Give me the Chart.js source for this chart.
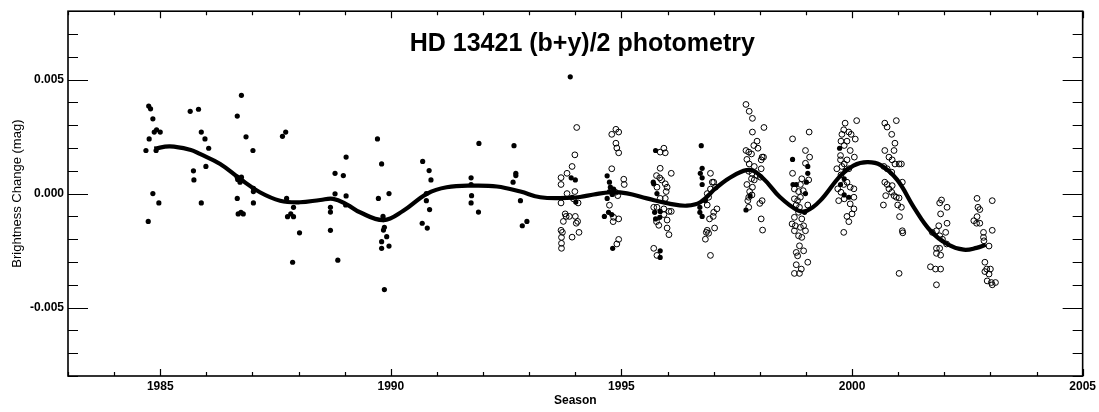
<!DOCTYPE html>
<html>
<head>
<meta charset="utf-8">
<script src="https://cdn.jsdelivr.net/npm/chart.js@4.4.1/dist/chart.umd.min.js"></script>
<style>
  html, body { margin: 0; padding: 0; background: #fff; }
  #wrap { width: 1099px; height: 412px; }
</style>
</head>
<body>
<div id="wrap"><canvas id="c" width="1099" height="412"></canvas></div>
<script>
// ---------------- DATA ----------------
const chartTitle = 'HD 13421 (b+y)/2 photometry';
const xAxisTitle = 'Season';
const yAxisTitle = 'Brightness Change (mag)';
const xMin = 1983, xMax = 2005, xMajorEvery = 5;
const yMin = -0.008, yMax = 0.008, yStep = 0.001, yMajorEvery = 0.005;

// filled dots (earlier photometry)
const filledYear = [
  1984.69,1984.74,1984.75,1984.79,1984.76,1984.84,1984.84,1984.87,1984.92,1984.91,1984.97,1985.00,
  1985.65,1985.83,1985.72,1985.73,1985.89,1985.89,1985.97,1985.99,1986.05,
  1986.67,1986.76,1986.67,1986.68,1986.73,1986.76,1986.67,1986.69,1986.75,1986.80,1986.86,1987.01,1987.02,1987.02,1987.02,
  1987.65,1987.72,1987.74,1987.76,1987.83,1987.89,1987.89,1987.87,1988.02,
  1988.69,1988.69,1988.69,1988.79,1988.79,1988.85,1988.97,1989.03,1989.03,1989.02,
  1989.71,1989.80,1989.73,1989.96,1989.83,1989.84,1989.86,1989.84,1989.91,1989.80,1989.80,1989.96,1989.86,
  1990.69,1990.83,1990.87,1990.77,1990.77,1990.84,1990.68,1990.79,
  1991.74,1991.75,1991.74,1991.74,1991.91,1991.90,
  1992.67,1992.71,1992.71,1992.65,1992.81,1992.85,1992.95,
  1993.89,1993.91,1994.00,1993.93,1994.01,
  1994.69,1994.74,1994.76,1994.74,1994.69,1994.80,1994.83,1994.63,1994.72,1994.79,1994.81,
  1995.74,1995.69,1995.70,1995.77,1995.72,1995.84,1995.83,1995.74,1995.84,1995.84,
  1996.73,1996.75,1996.71,1996.75,1996.75,1996.82,1996.70,1996.70,1996.75,
  1997.79,1997.70,
  1998.71,1999.04,1999.04,1998.72,1998.79,1999.01,1998.99,1998.97,
  1999.73,1999.85,1999.83,1999.75,1999.83,1999.93
];
const filledMag = [
  0.00189,-0.00122,0.00384,0.00372,0.00240,0.00328,0.00000,0.00270,0.00280,0.00189,-0.00041,0.00270,
  0.00361,0.00370,0.00100,0.00060,0.00270,-0.00041,0.00240,0.00119,0.00199,
  0.00340,0.00431,0.00072,0.00062,0.00050,0.00072,-0.00021,-0.00089,-0.00082,-0.00089,0.00249,0.00189,0.00023,0.00009,-0.00041,
  0.00251,0.00270,-0.00021,-0.00101,-0.00089,-0.00101,-0.00060,-0.00301,-0.00172,
  -0.00081,-0.00060,-0.00161,0.00089,-0.00001,-0.00292,0.00079,0.00160,-0.00010,-0.00050,
  0.00240,0.00130,-0.00021,0.00000,-0.00100,-0.00114,-0.00148,-0.00160,-0.00189,-0.00211,-0.00240,-0.00230,-0.00421,
  0.00141,0.00101,0.00060,0.00000,-0.00031,-0.00070,-0.00130,-0.00151,
  0.00069,-0.00009,-0.00041,0.00040,0.00220,-0.00081,
  0.00210,0.00089,0.00079,0.00050,-0.00031,-0.00141,-0.00122,
  0.00512,0.00069,0.00060,-0.00016,-0.00037,
  0.00078,0.00050,0.00028,0.00009,-0.00021,-0.00004,0.00020,-0.00100,-0.00082,-0.00092,-0.00240,
  0.00189,0.00050,0.00043,0.00000,-0.00082,-0.00078,-0.00104,-0.00111,-0.00251,-0.00280,
  0.00210,0.00111,0.00089,0.00069,0.00040,-0.00031,-0.00060,-0.00082,-0.00100,
  -0.00010,-0.00072,
  0.00150,0.00119,0.00089,0.00040,0.00040,0.00050,0.00000,-0.00082,
  0.00199,0.00101,0.00065,0.00040,-0.00006,-0.00016
];

// open circles (later photometry)
const openYear = [
  1994.03,1993.99,1993.93,1993.82,1993.69,1993.69,1993.82,1993.99,1993.96,1994.06,1993.69,1993.78,1993.80,1993.87,1994.00,1993.74,1994.05,1994.02,1993.69,1993.72,1994.08,1993.93,1993.70,1993.70,1993.70,
  1994.79,1994.87,1994.92,1994.74,1994.83,1994.82,1994.94,1995.05,1995.06,1994.79,1994.88,1994.94,1994.88,1994.90,1994.94,1994.94,1994.90,
  1995.84,1995.92,1995.95,1995.84,1995.76,1995.83,1995.87,1996.08,1995.77,1995.95,1995.99,1995.97,1995.84,1995.95,1995.70,1995.77,1995.92,1996.03,1996.08,1995.92,1995.76,1995.81,1995.99,1995.99,1996.03,1995.70,1995.77,
  1996.93,1996.97,1997.00,1997.04,1996.93,1996.86,1996.89,1996.86,1997.07,1997.00,1996.99,1996.91,1997.02,1996.86,1996.84,1996.89,1996.82,1996.93,
  1997.70,1997.77,1997.84,1997.84,1998.09,1997.94,1997.87,1997.96,1997.70,1997.76,1997.82,1998.05,1998.08,1998.03,1997.72,1997.77,1997.88,1998.03,1997.76,1997.83,1997.94,1998.01,1997.82,1997.88,1997.72,1997.84,1997.78,1997.83,1997.76,1997.74,1998.05,1998.00,1997.76,1998.03,1998.06,
  1998.71,1999.07,1998.99,1999.08,1998.99,1998.71,1998.91,1998.88,1999.06,1998.75,1998.84,1998.94,1998.75,1998.88,1998.82,1998.79,1998.86,1999.04,1998.84,1998.75,1998.91,1998.70,1998.77,1998.95,1998.88,1998.75,1998.99,1998.84,1998.91,1998.86,1998.79,1998.95,1998.82,1999.04,1998.79,1998.90,1998.75,1998.86,
  1999.85,2000.10,1999.82,1999.93,1999.98,1999.78,2000.07,1999.76,1999.89,1999.83,1999.96,1999.75,2000.05,1999.75,1999.89,1999.83,1999.78,1999.67,1999.93,1999.76,1999.89,1999.82,1999.96,2000.04,1999.69,1999.76,2000.04,1999.71,1999.83,1999.96,2000.04,2000.00,1999.89,1999.93,1999.82,
  2000.71,2000.76,2000.96,2000.86,2000.93,2000.91,2000.71,2000.80,2000.87,2000.93,2001.02,2001.07,2000.69,2000.76,2000.86,2000.71,2000.76,2001.09,2000.87,2000.80,2000.86,2000.91,2000.73,2000.96,2001.02,2000.68,2000.99,2001.07,2001.03,2001.09,2001.10,2001.02,
  2001.94,2001.90,2002.06,2001.92,2002.06,2001.88,2001.83,2001.74,2002.03,2001.90,2001.96,2002.05,2001.83,2001.90,2001.83,2001.92,2001.70,2001.81,2001.92,2001.83,
  2002.71,2003.04,2002.73,2002.77,2002.71,2002.64,2002.70,2002.77,2003.04,2002.85,2002.85,2002.86,2002.97,2002.88,2002.92,2003.00,2002.88,2002.97,2002.93,2003.02,2003.11,2003.04
];
const openMag = [
  0.00290,0.00170,0.00119,0.00089,0.00070,0.00040,0.00000,0.00009,-0.00023,-0.00041,-0.00041,-0.00089,-0.00100,-0.00100,-0.00100,-0.00122,-0.00122,-0.00130,-0.00161,-0.00170,-0.00170,-0.00191,-0.00192,-0.00218,-0.00240,
  0.00109,0.00006,-0.00009,-0.00051,-0.00104,-0.00123,-0.00111,0.00063,0.00040,0.00260,0.00282,0.00270,0.00221,0.00200,0.00179,-0.00201,-0.00221,
  0.00182,0.00199,0.00179,0.00111,0.00079,0.00069,0.00060,0.00089,0.00028,0.00043,0.00028,0.00009,-0.00021,-0.00021,-0.00060,-0.00060,-0.00067,-0.00078,-0.00078,-0.00092,-0.00123,-0.00139,-0.00116,-0.00151,-0.00180,-0.00240,-0.00271,
  0.00089,0.00050,0.00050,0.00028,0.00020,0.00000,-0.00016,-0.00050,-0.00067,-0.00082,-0.00100,-0.00111,-0.00151,-0.00161,-0.00170,-0.00174,-0.00200,-0.00271,
  0.00391,0.00361,0.00330,0.00270,0.00290,0.00230,0.00211,0.00199,0.00189,0.00182,0.00174,0.00160,0.00160,0.00148,0.00150,0.00130,0.00119,0.00109,0.00098,0.00089,0.00079,0.00072,0.00065,0.00060,0.00040,0.00028,0.00009,-0.00006,-0.00016,-0.00031,-0.00031,-0.00043,-0.00060,-0.00111,-0.00160,
  0.00240,0.00270,0.00189,0.00160,0.00133,0.00089,0.00065,0.00040,0.00060,0.00020,0.00009,0.00013,-0.00023,-0.00016,-0.00031,-0.00050,-0.00060,-0.00050,-0.00082,-0.00104,-0.00111,-0.00133,-0.00141,-0.00141,-0.00148,-0.00163,-0.00163,-0.00185,-0.00192,-0.00229,-0.00258,-0.00251,-0.00273,-0.00301,-0.00312,-0.00331,-0.00350,-0.00350,
  0.00309,0.00320,0.00280,0.00270,0.00260,0.00260,0.00239,0.00230,0.00230,0.00211,0.00189,0.00167,0.00160,0.00148,0.00148,0.00130,0.00119,0.00109,0.00109,0.00082,0.00050,0.00040,0.00028,0.00021,0.00021,0.00006,-0.00016,-0.00031,-0.00023,-0.00045,-0.00067,-0.00089,-0.00100,-0.00123,-0.00170,
  0.00309,0.00292,0.00320,0.00260,0.00221,0.00189,0.00189,0.00160,0.00148,0.00130,0.00130,0.00130,0.00119,0.00109,0.00094,0.00050,0.00040,0.00050,0.00035,0.00021,0.00006,-0.00009,-0.00009,-0.00016,-0.00019,-0.00050,-0.00050,-0.00060,-0.00101,-0.00163,-0.00172,-0.00350,
  -0.00028,-0.00041,-0.00060,-0.00089,-0.00130,-0.00141,-0.00163,-0.00170,-0.00170,-0.00185,-0.00200,-0.00221,-0.00240,-0.00240,-0.00262,-0.00270,-0.00321,-0.00331,-0.00331,-0.00400,
  -0.00021,-0.00031,-0.00060,-0.00070,-0.00101,-0.00119,-0.00130,-0.00130,-0.00161,-0.00170,-0.00192,-0.00207,-0.00230,-0.00301,-0.00331,-0.00331,-0.00342,-0.00353,-0.00383,-0.00390,-0.00390,-0.00400
];

// smooth fitted curve
const curveYear = [1984.87,1985.21,1985.65,1985.86,1986.30,1986.73,1987.16,1987.60,1988.03,1988.47,1988.75,1989.05,1989.33,1989.84,1990.27,1990.78,1991.21,1991.79,1992.30,1992.81,1993.24,1993.82,1994.10,1994.40,1994.76,1995.12,1995.55,1996.06,1996.42,1996.71,1997.07,1997.43,1997.79,1998.08,1998.44,1998.81,1999.02,1999.31,1999.75,2000.03,2000.33,2000.62,2000.98,2001.34,2001.70,2002.06,2002.42,2002.70,2002.90];
const curveMag  = [0.00197,0.00207,0.00192,0.00174,0.00130,0.00065,0.00006,-0.00031,-0.00038,-0.00028,-0.00023,-0.00048,-0.00082,-0.00116,-0.00075,-0.00001,0.00028,0.00035,0.00031,0.00009,-0.00016,-0.00019,-0.00015,-0.00004,0.00006,0.00001,-0.00021,-0.00045,-0.00053,-0.00038,0.00028,0.00079,0.00104,0.00065,-0.00016,-0.00072,-0.00075,-0.00031,0.00079,0.00123,0.00138,0.00125,0.00060,-0.00060,-0.00163,-0.00221,-0.00246,-0.00238,-0.00224];

// ---------------- CHART ----------------
const toXY = (xs, ys) => xs.map((v, i) => ({ x: v, y: ys[i] }));
const FONT = "'Liberation Sans', Arial, Helvetica, sans-serif";
Chart.defaults.font.family = FONT;
Chart.defaults.color = '#000';

const isMajorY = v => Math.abs(Math.round(v * 1000)) % Math.round(yMajorEvery * 1000) === 0;
const isMajorX = v => Math.abs(Math.round(v)) % xMajorEvery === 0;

const frameTicks = {
  id: 'frameTicks',
  afterDatasetsDraw(chart) {
    const { ctx, chartArea: a, scales: { x, y } } = chart;
    ctx.save();
    ctx.strokeStyle = '#000';
    ctx.lineWidth = 1.6;
    ctx.strokeRect(a.left, a.top, a.right - a.left, a.bottom - a.top);
    ctx.lineWidth = 1.2;
    ctx.beginPath();
    y.ticks.forEach(t => {
      const py = Math.round(y.getPixelForValue(t.value)) + 0.5;
      const len = isMajorY(t.value) ? 20 : 10;
      ctx.moveTo(a.left, py); ctx.lineTo(a.left + len, py);
      ctx.moveTo(a.right, py); ctx.lineTo(a.right - len, py);
    });
    x.ticks.forEach(t => {
      const px = Math.round(x.getPixelForValue(t.value)) + 0.5;
      const len = isMajorX(t.value) ? 7 : 4;
      ctx.moveTo(px, a.bottom); ctx.lineTo(px, a.bottom - len);
      ctx.moveTo(px, a.top); ctx.lineTo(px, a.top + len);
    });
    ctx.stroke();
    // chart title inside the plot frame
    ctx.fillStyle = '#000';
    ctx.font = "bold 25px " + FONT;
    ctx.textAlign = 'center';
    ctx.textBaseline = 'alphabetic';
    ctx.fillText(chartTitle, (a.left + a.right) / 2 + 7, a.top + 40);
    ctx.restore();
  }
};

new Chart(document.getElementById('c'), {
  type: 'scatter',
  data: {
    datasets: [
      {
        type: 'line',
        label: 'fit',
        data: toXY(curveYear, curveMag),
        borderColor: '#000',
        borderWidth: 4.2,
        tension: 0.4,
        pointRadius: 0,
        fill: false,
        order: 0
      },
      {
        label: 'filled',
        data: toXY(filledYear, filledMag),
        pointRadius: 2.6,
        backgroundColor: '#000',
        borderColor: '#000',
        borderWidth: 0,
        order: 1
      },
      {
        label: 'open',
        data: toXY(openYear, openMag),
        pointRadius: 2.9,
        backgroundColor: 'rgba(255,255,255,0)',
        borderColor: '#000',
        borderWidth: 1,
        order: 2
      }
    ]
  },
  options: {
    responsive: false,
    animation: false,
    events: [],
    layout: { padding: { top: 11, right: 16, left: 0, bottom: 0 } },
    plugins: { legend: { display: false }, tooltip: { enabled: false }, title: { display: false } },
    scales: {
      x: {
        type: 'linear',
        min: xMin, max: xMax,
        grid: { display: false, drawTicks: false },
        border: { display: false },
        ticks: {
          stepSize: 1, autoSkip: false, maxRotation: 0, padding: 3,
          font: { size: 12, weight: 'bold' }, color: '#000',
          callback: v => isMajorX(v) ? String(Math.round(v)) : ''
        },
        title: { display: true, text: xAxisTitle, font: { size: 12, weight: 'bold' }, color: '#000', padding: { top: 0, bottom: 4 } },
        afterFit: s => { s.height = 36; }
      },
      y: {
        type: 'linear',
        min: yMin, max: yMax,
        grid: { display: false, drawTicks: false },
        border: { display: false },
        ticks: {
          stepSize: yStep, autoSkip: false, padding: 4,
          font: { size: 12, weight: 'bold' }, color: '#000',
          callback: v => isMajorY(v) ? (Math.abs(v) < 1e-9 ? '0.000' : v.toFixed(3)) : ''
        },
        title: { display: true, text: yAxisTitle, font: { size: 13, weight: 'normal' }, color: '#000', padding: { top: 10, bottom: 0 } },
        afterFit: s => { s.width = 68; }
      }
    }
  },
  plugins: [frameTicks]
});
</script>
</body>
</html>
